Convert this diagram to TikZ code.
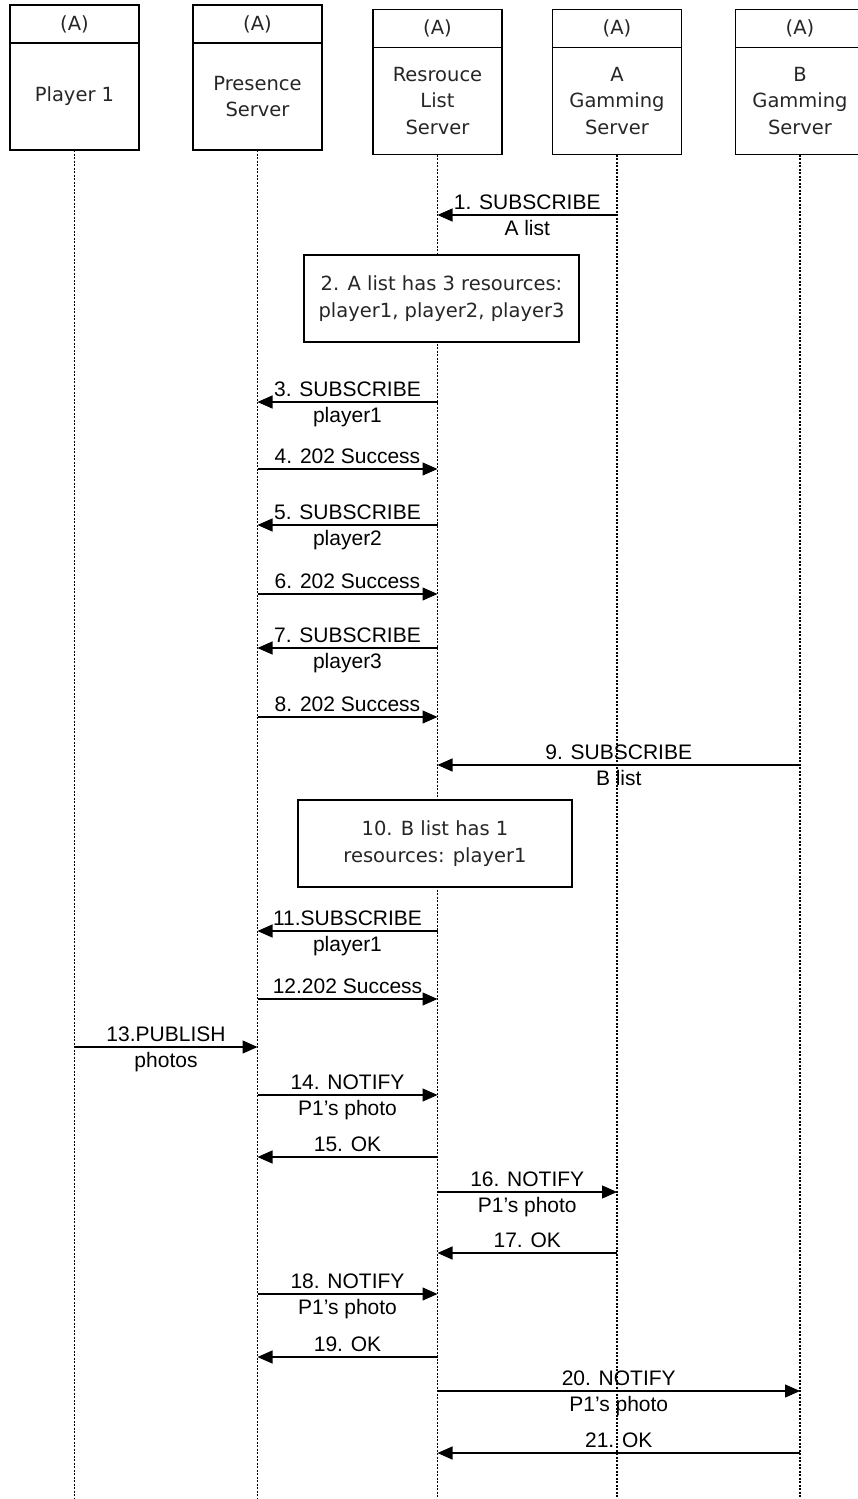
\documentclass[tikz,border=0pt]{standalone}
\usepackage{fontspec}
\setmainfont{Liberation Sans}
\newfontfamily\boxfont{DejaVu Sans}
\usetikzlibrary{positioning,arrows.meta}

\begin{document}
\begin{tikzpicture}[
  x=1pt, y=-1pt,
  font=\fontsize{21}{25}\selectfont,
  >={Triangle[length=15pt,width=13pt]},
  headbox/.style={
    draw,
    rectangle,
    outer sep=0pt,
    line width=1.3pt,
    minimum width=129pt,
    align=center,
    text=black!85,
    font=\boxfont\fontsize{19.5}{26.5}\selectfont
  },
  tagbox/.style={headbox, minimum height=38pt},
  actorbox/.style={headbox, minimum height=107pt},
  notebox/.style={
    draw,
    rectangle,
    fill=white,
    line width=1.3pt,
    align=center,
    minimum height=87pt,
    text=black!85,
    font=\boxfont\fontsize{19.5}{27}\selectfont
  },
  lifeline/.style={line width=1.3pt, dash pattern=on 2pt off 1.5pt},
  msg/.style={->, line width=1.2pt},
  toptext/.style={anchor=base, inner sep=0pt, yshift=6pt},
  bottext/.style={anchor=base, inner sep=0pt, yshift=-20pt}
]

\useasboundingbox (0,0) rectangle (858,1499);

% participants
\node[tagbox] (p1tag) at (74.5,24) {(A)};
\node[actorbox, below=0pt of p1tag] (p1) {Player 1};

\node[tagbox] (pstag) at (257.5,24) {(A)};
\node[actorbox, below=0pt of pstag] (ps) {Presence\\Server};

\node[tagbox] (rlstag) at (437.5,28.5) {(A)};
\node[actorbox, below=0pt of rlstag] (rls) {Resrouce\\List\\Server};

\node[tagbox] (agstag) at (617,28.5) {(A)};
\node[actorbox, below=0pt of agstag] (ags) {A\\Gamming\\Server};

\node[tagbox] (bgstag) at (800,28.5) {(A)};
\node[actorbox, below=0pt of bgstag] (bgs) {B\\Gamming\\Server};

% message rows
\coordinate (bottom) at (0,1499);
\coordinate (m1) at (0,215);
\coordinate (m3) at (0,402);
\coordinate (m4) at (0,469);
\coordinate (m5) at (0,525);
\coordinate (m6) at (0,594);
\coordinate (m7) at (0,648);
\coordinate (m8) at (0,717);
\coordinate (m9) at (0,765);
\coordinate (m11) at (0,931);
\coordinate (m12) at (0,999);
\coordinate (m13) at (0,1047);
\coordinate (m14) at (0,1095);
\coordinate (m15) at (0,1157);
\coordinate (m16) at (0,1192);
\coordinate (m17) at (0,1253);
\coordinate (m18) at (0,1294);
\coordinate (m19) at (0,1357);
\coordinate (m20) at (0,1391);
\coordinate (m21) at (0,1453);

% lifelines
\draw[lifeline] (p1.south) -- (p1.south |- bottom);
\draw[lifeline] (ps.south) -- (ps.south |- bottom);
\draw[lifeline] (rls.south) -- (rls.south |- bottom);
\draw[lifeline] (ags.south) -- (ags.south |- bottom);
\draw[lifeline] (bgs.south) -- (bgs.south |- bottom);

% notes
\node[notebox, minimum width=275pt] (note2) at (441.5,298.5) {2. A list has 3 resources:\\player1, player2, player3};
\node[notebox, minimum width=274pt] (note10) at (435,843.5) {10. B list has 1\\resources: player1};

% messages
\draw[msg] (ags |- m1) -- node[toptext] {1. SUBSCRIBE} node[bottext] {A list} (rls |- m1);
\draw[msg] (rls |- m3) -- node[toptext] {3. SUBSCRIBE} node[bottext] {player1} (ps |- m3);
\draw[msg] (ps |- m4) -- node[toptext] {4. 202 Success} (rls |- m4);
\draw[msg] (rls |- m5) -- node[toptext] {5. SUBSCRIBE} node[bottext] {player2} (ps |- m5);
\draw[msg] (ps |- m6) -- node[toptext] {6. 202 Success} (rls |- m6);
\draw[msg] (rls |- m7) -- node[toptext] {7. SUBSCRIBE} node[bottext] {player3} (ps |- m7);
\draw[msg] (ps |- m8) -- node[toptext] {8. 202 Success} (rls |- m8);
\draw[msg] (bgs |- m9) -- node[toptext] {9. SUBSCRIBE} node[bottext] {B list} (rls |- m9);
\draw[msg] (rls |- m11) -- node[toptext] {11.SUBSCRIBE} node[bottext] {player1} (ps |- m11);
\draw[msg] (ps |- m12) -- node[toptext] {12.202 Success} (rls |- m12);
\draw[msg] (p1 |- m13) -- node[toptext] {13.PUBLISH} node[bottext] {photos} (ps |- m13);
\draw[msg] (ps |- m14) -- node[toptext] {14. NOTIFY} node[bottext] {P1’s photo} (rls |- m14);
\draw[msg] (rls |- m15) -- node[toptext] {15. OK} (ps |- m15);
\draw[msg] (rls |- m16) -- node[toptext] {16. NOTIFY} node[bottext] {P1’s photo} (ags |- m16);
\draw[msg] (ags |- m17) -- node[toptext] {17. OK} (rls |- m17);
\draw[msg] (ps |- m18) -- node[toptext] {18. NOTIFY} node[bottext] {P1’s photo} (rls |- m18);
\draw[msg] (rls |- m19) -- node[toptext] {19. OK} (ps |- m19);
\draw[msg] (rls |- m20) -- node[toptext] {20. NOTIFY} node[bottext] {P1’s photo} (bgs |- m20);
\draw[msg] (bgs |- m21) -- node[toptext] {21. OK} (rls |- m21);

\end{tikzpicture}
\end{document}
